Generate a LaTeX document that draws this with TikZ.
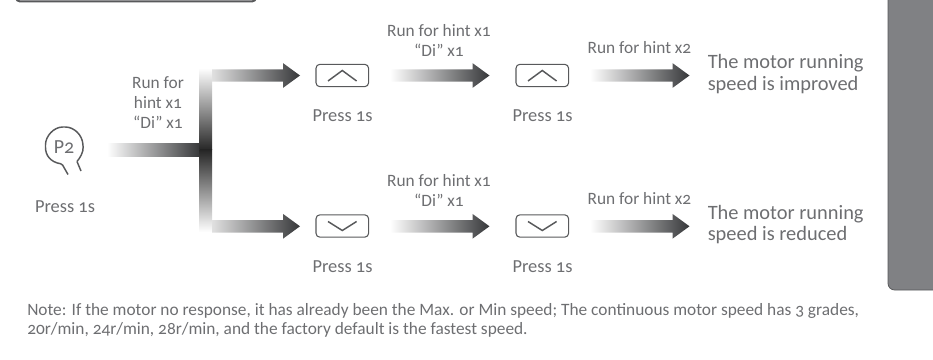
\documentclass[tikz,border=0pt]{standalone}
\usepackage{fontspec}
\setmainfont[Numbers=OldStyle]{Carlito}
\usetikzlibrary{positioning,calc}

\definecolor{txtgray}{HTML}{6D6E71}
\definecolor{linegray}{HTML}{58595B}
\definecolor{panelgray}{HTML}{808184}
\definecolor{arrowdark}{HTML}{37383A}

\tikzset{
    lbl/.style={text=txtgray, font=\fontsize{13pt}{15pt}\selectfont, align=center, inner sep=0pt},
    pressed/.style={text=txtgray, font=\fontsize{13.8pt}{15pt}\selectfont, inner sep=0pt},
    res/.style={text=txtgray, font=\fontsize{15.3pt}{16.4pt}\selectfont, align=left, inner sep=0pt, anchor=west},
    keybox/.style={draw=linegray, line width=0.8pt, rounded corners=3pt, minimum width=39.5pt, minimum height=16.8pt, inner sep=0pt},
    keymark/.style={draw=linegray, line width=1.1pt},
}

% gradient arrow between two named points
\newcommand{\gradarrow}[3][white]{%
    \shade[left color=#1, right color=arrowdark]
        ($(#2)+(0,6.2)$) -- ($(#3)+(-17,6.2)$) -- ($(#3)+(-17,12.4)$) -- (#3)
        -- ($(#3)+(-17,-12.4)$) -- ($(#3)+(-17,-6.2)$) -- ($(#2)+(0,-6.2)$) -- cycle;
}

\begin{document}
\begin{tikzpicture}[x=0.75pt, y=-0.75pt]
    \useasboundingbox (0,0) rectangle (933,360);

    % top box and side panel
    \draw[draw=linegray, line width=1.5pt, rounded corners=3pt, fill=white] (16,-20) rectangle (256,1.5);
    \fill[panelgray, rounded corners=5pt] (888,-20) -- (888,290) -- (950,290) -- (950,-20) -- cycle;
    \draw[linegray, line width=0.6pt, rounded corners=5pt] (888,-20) -- (888,290) -- (950,290);

    % P2 key
    \node[text=txtgray, font=\fontsize{15pt}{15pt}\selectfont, inner sep=0pt] (P2) at (64,147) {P2};
    \draw[keymark, rounded corners=1pt] (77,161.5) .. controls (80,158) and (83.5,152) .. (83,146)
        .. controls (82.5,135) and (74,127) .. (64,127)
        .. controls (54,127) and (45.5,136) .. (45.5,146)
        .. controls (45.5,155) and (50,162) .. (62,164) -- (68,174.5);
    \draw[keymark] (77,161.5) -- (81,171);
    \node[pressed] (pressA) at (65,207) {Press 1s};

    % trunk
    \shade[left color=white, right color=arrowdark] (107,144) rectangle (199.5,156.7);
    \shade[top color=white, bottom color=black!85] (199.5,68) rectangle (212,150);
    \shade[top color=black!85, bottom color=white] (199.5,150) rectangle (212,232);
    \node[lbl] (hintA) at (158,102.5) {Run for\\hint x1\\“Di” x1};

    % upper row
    \coordinate (u1a) at (212,75.5);
    \coordinate (u1b) at (300,75.5);
    \coordinate (u2a) at (390,75.5);
    \coordinate (u2b) at (489.5,75.5);
    \coordinate (u3a) at (590,75.5);
    \coordinate (u3b) at (689.5,75.5);
    \gradarrow[black!12]{u1a}{u1b}
    \gradarrow{u2a}{u2b}
    \gradarrow{u3a}{u3b}
    \node[keybox] (upA) at (342.3,75.5) {};
    \node[keybox] (upB) at (542.3,75.5) {};
    \draw[keymark] (328,81) -- (342.3,70.5) -- (356.6,81);
    \draw[keymark] (528,81) -- (542.3,70.5) -- (556.6,81);
    \node[pressed] (pressB) at (342.5,116) {Press 1s};
    \node[pressed] (pressC) at (542.5,116) {Press 1s};
    \node[lbl] (hintB) at (439,40) {Run for hint x1\\“Di” x1};
    \node[lbl] (hintC) at (639.5,48) {Run for hint x2};
    \node[res] (fast) at (707.5,74) {The motor running\\speed is improved};

    % lower row
    \coordinate (d1a) at (212,226.3);
    \coordinate (d1b) at (300,226.3);
    \coordinate (d2a) at (390,226.3);
    \coordinate (d2b) at (489.5,226.3);
    \coordinate (d3a) at (590,226.3);
    \coordinate (d3b) at (689.5,226.3);
    \gradarrow[black!12]{d1a}{d1b}
    \gradarrow{d2a}{d2b}
    \gradarrow{d3a}{d3b}
    \node[keybox] (downA) at (342.3,226) {};
    \node[keybox] (downB) at (542.3,226) {};
    \draw[keymark] (328,221.5) -- (342.3,230.5) -- (356.6,221.5);
    \draw[keymark] (528,221.5) -- (542.3,230.5) -- (556.6,221.5);
    \node[pressed] (pressD) at (342.5,267) {Press 1s};
    \node[pressed] (pressE) at (542.5,267) {Press 1s};
    \node[lbl] (hintD) at (439,190) {Run for hint x1\\“Di” x1};
    \node[lbl] (hintE) at (639.5,199) {Run for hint x2};
    \node[res] (slow) at (707.5,224.5) {The motor running\\speed is reduced};

    % note
    \node[lbl, align=left, anchor=west, font=\fontsize{13pt}{14pt}\selectfont] (note) at (27,320.5)
        {Note: If the motor no response, it has already been the Max. or Min speed; The continuous motor speed has 3 grades,\\
         20r/min, 24r/min, 28r/min, and the factory default is the fastest speed.};
\end{tikzpicture}
\end{document}
